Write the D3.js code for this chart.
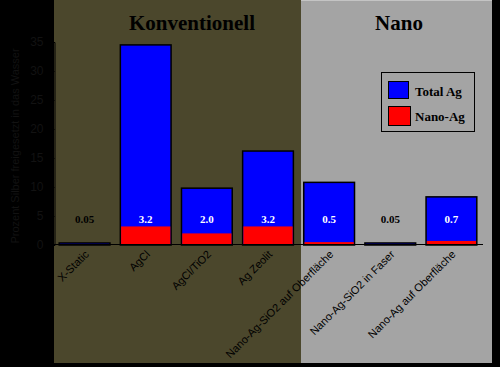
<!DOCTYPE html>
<html><head><meta charset="utf-8">
<script src="https://cdn.jsdelivr.net/npm/d3@7"></script>
<style>body{margin:0;background:#000}svg{display:block}</style>
</head><body>
<script>
const categories = ["X-Static","AgCl","AgCl/TiO2","Ag Zeolit","Nano-Ag-SiO2 auf Oberfläche","Nano-Ag-SiO2 in Faser","Nano-Ag auf Oberfläche"];
const totalAg = [0.35, 34.5, 9.8, 16.2, 10.8, 0.35, 8.3];
const nanoAg = [0.05, 3.2, 2.0, 3.2, 0.5, 0.05, 0.7];
const valueLabels = ["0.05","3.2","2.0","3.2","0.5","0.05","0.7"];
const yTicks = [0,5,10,15,20,25,30,35];
const groups = [{name:"Konventionell", from:0, to:3},{name:"Nano", from:4, to:6}];
const legendItems = [{name:"Total Ag", color:"#0000ff"},{name:"Nano-Ag", color:"#ff0000"}];
const yLabel = "Prozent Silber freigesetzt in das Wasser";

const W=500,H=367;
const svg=d3.select("body").append("svg").attr("width",W).attr("height",H);
svg.append("rect").attr("width",W).attr("height",H).attr("fill","#000");

const x=d3.scaleBand().domain(categories).range([54,482]).paddingInner(0.17).paddingOuter(0.085);
const y=d3.scaleLinear().domain([0,35]).range([245,42]);

// panels
svg.append("rect").attr("x",54).attr("y",0).attr("width",247).attr("height",363).attr("fill","#4b472c");
svg.append("rect").attr("x",301).attr("y",0).attr("width",191).attr("height",363).attr("fill","#a4a4a4");
svg.append("line").attr("x1",301).attr("x2",492).attr("y1",0.5).attr("y2",0.5).attr("stroke","#c4c4c4");

// group titles
const panelCenters=[192,399];
groups.forEach((g,i)=>{
  svg.append("text").attr("x",panelCenters[i]).attr("y",29.5).attr("text-anchor","middle")
    .attr("font-family","Liberation Serif, serif").attr("font-weight","bold").attr("font-size",21)
    .attr("fill","#000").text(g.name);
});

// y axis
const ya=svg.append("g").attr("transform","translate(54.5,0)")
  .call(d3.axisLeft(y).tickValues(yTicks).tickSize(4).tickFormat(d3.format("d")));
ya.select(".domain").attr("stroke","#000");
ya.selectAll("line").attr("stroke","#000");
ya.selectAll("text").attr("fill","#121212").attr("font-family","Liberation Sans, Arial, sans-serif").attr("font-size",12).attr("x",-11);

svg.append("text").attr("transform","translate(19,146) rotate(-90)").attr("text-anchor","middle")
  .attr("font-family","Liberation Sans, Arial, sans-serif").attr("font-size",11).attr("fill","#121212").text(yLabel);

// bars
const bw=x.bandwidth();
const bars=svg.append("g");
categories.forEach((c,i)=>{
  bars.append("rect").attr("x",x(c)).attr("y",y(totalAg[i])).attr("width",bw).attr("height",y(0)-y(totalAg[i]))
    .attr("fill","#0000ff").attr("stroke","#000").attr("stroke-width",1.5);
  bars.append("rect").attr("x",x(c)+0.75).attr("y",y(nanoAg[i])).attr("width",bw-1.5).attr("height",y(0)-y(nanoAg[i])-0.75)
    .attr("fill","#ff0000");
  svg.append("text").attr("x",x(c)+bw/2).attr("y",223).attr("text-anchor","middle")
    .attr("font-family","Liberation Serif, serif").attr("font-weight","bold").attr("font-size",11)
    .attr("fill", totalAg[i]>2?"#fff":"#000").text(valueLabels[i]);
});

// baseline
svg.append("line").attr("x1",54).attr("x2",483).attr("y1",244.5).attr("y2",244.5).attr("stroke","#000").attr("stroke-width",1);

// x labels
categories.forEach(c=>{
  svg.append("text").attr("transform",`translate(${x(c)+bw/2+5},255) rotate(-45)`).attr("text-anchor","end")
    .attr("font-family","Liberation Sans, Arial, sans-serif").attr("font-size",11).attr("fill","#000").text(c);
});

// legend
const lg=svg.append("g");
lg.append("rect").attr("x",381.5).attr("y",72.5).attr("width",93).attr("height",59).attr("fill","none").attr("stroke","#000").attr("stroke-width",1);
legendItems.forEach((l,i)=>{
  lg.append("rect").attr("x",388.5).attr("y",81.5+i*25).attr("width",20+i*2).attr("height",17+i*2).attr("fill",l.color).attr("stroke","#000");
  lg.append("text").attr("x",415).attr("y",96+i*25).attr("font-family","Liberation Serif, serif").attr("font-weight","bold")
    .attr("font-size",13).attr("fill","#000").text(l.name);
});
</script>
</body></html>
